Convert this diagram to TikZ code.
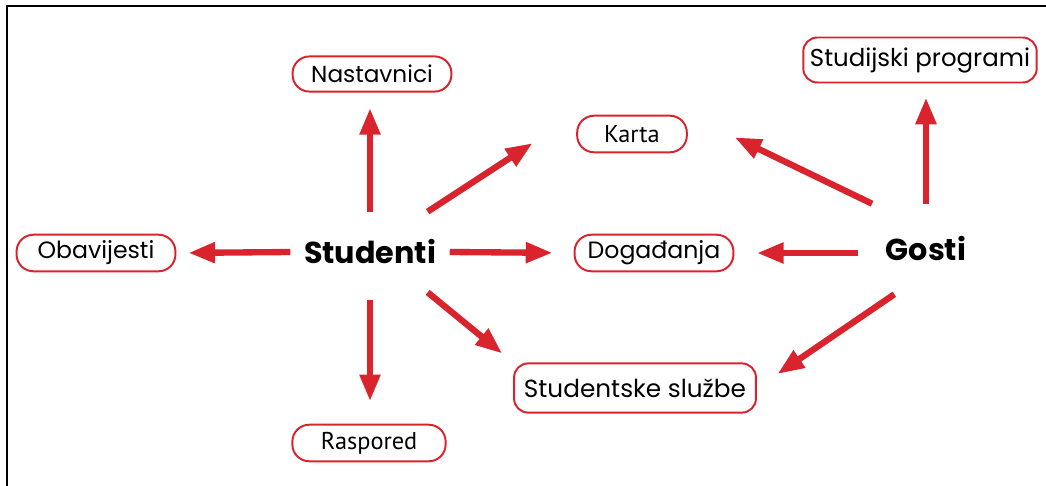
\documentclass[tikz,border=0pt]{standalone}
\usepackage{fontspec}
\setmainfont{Poppins}
\newfontfamily\myriad{PT Sans}
\usetikzlibrary{arrows.meta}

\definecolor{webred}{HTML}{D9232D}

\tikzset{
  box/.style={draw=webred, line width=1.4pt, rounded corners=12pt, inner sep=0pt,
    minimum height=26pt, font=\fontsize{16.8}{20}\selectfont},
  hub/.style={inner sep=0pt, font=\fontsize{21.5}{26}\selectfont\bfseries},
  arr/.style={draw=webred, line width=4.5pt, -{Triangle[length=19pt,width=14pt]}}
}

\begin{document}
\begin{tikzpicture}[x=0.025cm, y=-0.025cm]
\useasboundingbox (0,0) rectangle (1046,486);
\draw[line width=1.4pt] (7,486) -- (7,6) -- (1046,6);

% the two user groups
\node[hub, minimum width=113pt, minimum height=57pt] (stud) at (370,252) {Studenti};
\node[hub, minimum width=96pt, minimum height=64pt] (gosti) at (926,249) {Gosti};

% pages
\node[box, minimum width=113pt, minimum height=25pt, font=\fontsize{16.5}{20}\selectfont] (nast) at (372,74) {Nastavnici};
\node[box, minimum width=78pt, font=\myriad\fontsize{17.3}{20}\selectfont] (karta) at (632,134) {Karta};
\node[box, minimum width=113pt] (dog) at (654,253) {Događanja};
\node[box, minimum width=113pt] (obav) at (96,253) {Obavijesti};
\node[box, minimum width=109pt, font=\myriad\fontsize{17.3}{20}\selectfont] (rasp) at (369,443) {Raspored};
\node[box, minimum width=166pt, minimum height=32pt, rounded corners=10pt, font=\fontsize{17.4}{21}\selectfont] (prog) at (920,60) {Studijski programi};
\node[box, minimum width=172pt, minimum height=35pt, rounded corners=10pt, font=\fontsize{17.6}{21}\selectfont] (sluz) at (635,388) {Studentske službe};

% Studenti
\draw[arr, shorten >=11pt] (stud.north) -- (stud.north |- nast.south);
\draw[arr, shorten >=37pt] (stud.35) -- (karta.north west);
\draw[arr, shorten >=8.5pt] (stud.west) -- (obav.east);
\draw[arr, shorten >=15pt] (stud.east) -- (dog.west);
\draw[arr, shorten <=5.7pt, shorten >=16pt] (stud.south) -- (stud.south |- rasp.north);
\draw[arr, shorten >=10pt] (stud.-35) -- (sluz.north west);

% Gosti
\draw[arr, shorten >=37pt] (gosti.140) -- (karta.north east);
\draw[arr, shorten >=16pt] (dog.east -| gosti.west) -- (dog.east);
\draw[arr, shorten >=10pt] (gosti.north) -- (gosti.north |- prog.south);
\draw[arr, shorten >=17.7pt] (gosti.-125) -- (sluz.east);
\end{tikzpicture}
\end{document}
